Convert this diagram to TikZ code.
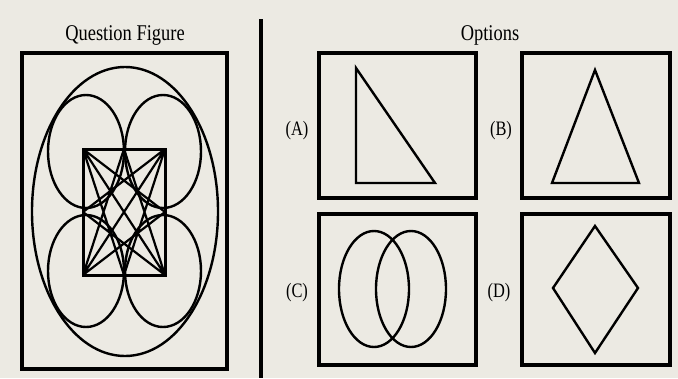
\documentclass[tikz,border=0pt]{standalone}
\usepackage{fontspec}
\setmainfont{Liberation Serif}
\definecolor{bg}{HTML}{ECEAE3}
\begin{document}
\begin{tikzpicture}[x=1pt,y=-1pt,
  frame/.style={line width=4pt},
  fig/.style={line width=2.4pt, line join=miter},
  lattice/.style={line width=2.2pt},
  title/.style={font=\fontsize{22.5}{22.5}\selectfont, xscale=0.82, inner sep=0pt},
  lbl/.style={font=\fontsize{20.5}{20.5}\selectfont, xscale=0.8, inner sep=0pt}]
\useasboundingbox[fill=bg] (0,0) rectangle (678,378);

% titles
\node[title] (qt) at (125,35) {Question Figure};
\node[title] (ot) at (490,35) {Options};

% divider
\draw[line width=4.5pt] (261,19) -- (261,378);

% question figure
\draw[frame] (22,53) rectangle (227,369);
\draw[fig] (125,211.5) ellipse [x radius=93, y radius=144.5];
\draw[fig] (86,151.5) ellipse [x radius=38, y radius=56.5];
\draw[fig] (163,151.5) ellipse [x radius=38, y radius=56.5];
\draw[fig] (86,271) ellipse [x radius=38, y radius=56];
\draw[fig] (163,271) ellipse [x radius=38, y radius=56];

\coordinate (tl) at (83,149);
\coordinate (tr) at (165,149);
\coordinate (bl) at (83,275);
\coordinate (br) at (165,275);
\coordinate (tm) at (124,149);
\coordinate (bm) at (124,275);
\coordinate (lm) at (83,212);
\coordinate (rm) at (165,212);
\draw[line width=3pt] (tl) rectangle (br);
\draw[lattice] (tl) -- (br) (tr) -- (bl)
  (tl) -- (rm) (tl) -- (bm)
  (tr) -- (lm) (tr) -- (bm)
  (bl) -- (rm) (bl) -- (tm)
  (br) -- (lm) (br) -- (tm);

% options
\draw[frame] (319,53) rectangle (476,198);
\draw[frame] (522,53) rectangle (670,198);
\draw[frame] (319,214) rectangle (476,365);
\draw[frame] (522,214) rectangle (670,365);

\node[lbl] (la) at (297,131) {(A)};
\node[lbl] (lb) at (501,131) {(B)};
\node[lbl] (lc) at (297,293) {(C)};
\node[lbl] (ld) at (499,293) {(D)};

% A: right triangle
\draw[fig] (356,68) -- (356,183) -- (435,183) -- cycle;
% B: isosceles triangle
\draw[fig] (595,70) -- (552,183) -- (639,183) -- cycle;
% C: two ellipses
\draw[fig] (374,289) ellipse [x radius=35, y radius=58];
\draw[fig] (411,289) ellipse [x radius=35, y radius=58];
% D: diamond
\draw[fig] (595,226) -- (638,288) -- (595,353) -- (553,288) -- cycle;
\end{tikzpicture}
\end{document}
